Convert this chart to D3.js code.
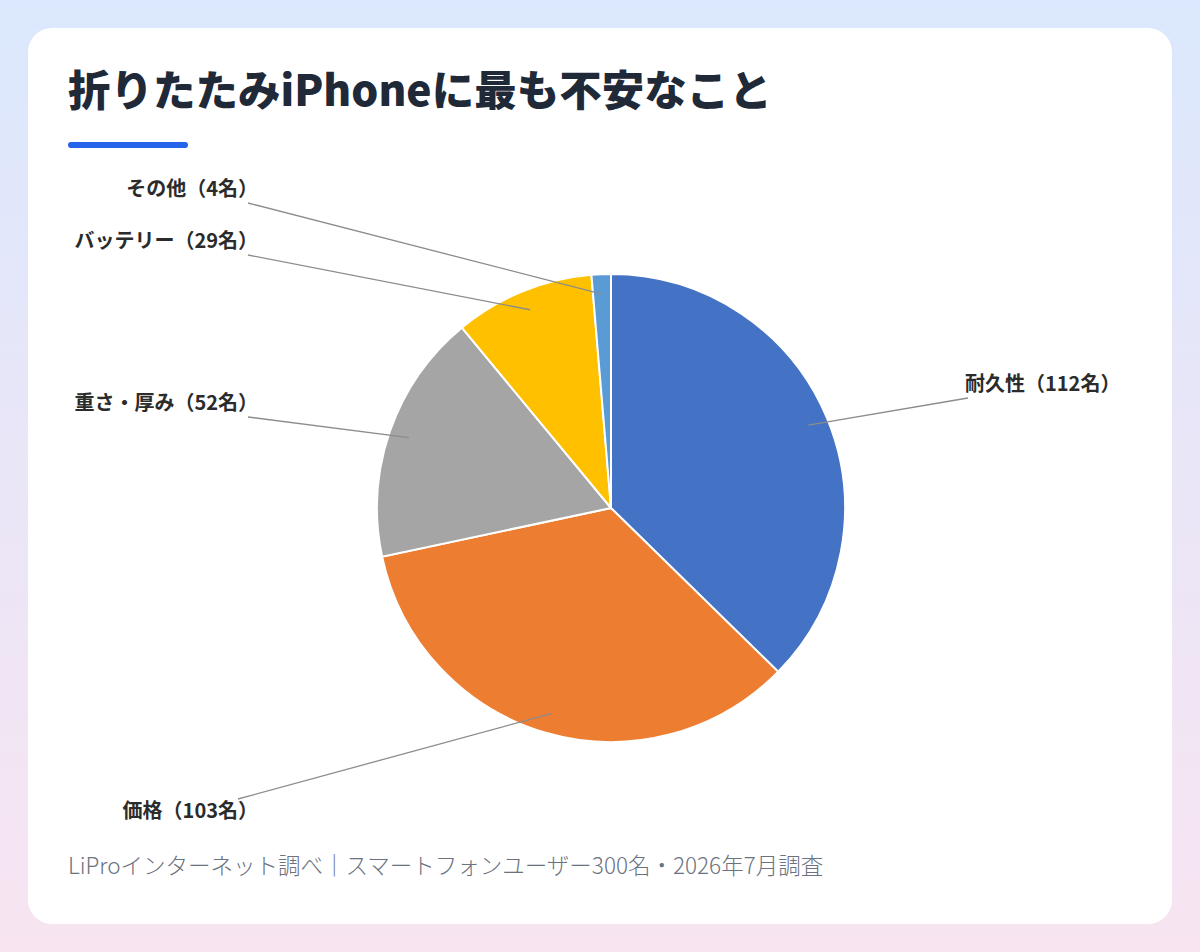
<!DOCTYPE html>
<html lang="ja">
<head>
<meta charset="utf-8">
<script src="https://cdn.jsdelivr.net/npm/d3@7"></script>
<style>
  html, body { margin: 0; padding: 0; }
  body {
    width: 1200px; height: 952px; overflow: hidden;
    background: linear-gradient(180deg, #dbe8fd 0%, #f8e4f1 100%);
    font-family: "Noto Sans CJK JP", "Noto Sans", sans-serif;
  }
</style>
</head>
<body>
<div id="chart"></div>
<script>
// data
var categories = ["耐久性", "価格", "重さ・厚み", "バッテリー", "その他"];
var counts = [112, 103, 52, 29, 4];
var colors = ["#4472C4", "#ED7D31", "#A5A5A5", "#FFC000", "#5B9BD5"];
var titleText = "折りたたみiPhoneに最も不安なこと";
var sourceText = "LiProインターネット調べ｜スマートフォンユーザー300名・2026年7月調査";

// label layout (vertical centre of each label)
var labelY = [384, 811, 403, 241, 189];

function init() {
    var w = 1200;
    var h = 952;
    var cx = 611, cy = 508, radius = 234;

    var svg = d3.select("#chart")
        .append("svg")
        .attr("width", w)
        .attr("height", h);

    // white card
    svg.append("rect")
        .attr("x", 28).attr("y", 28)
        .attr("width", 1144).attr("height", 896)
        .attr("rx", 24)
        .attr("fill", "#ffffff");

    svg.append("text")
        .attr("x", 68).attr("y", 106)
        .attr("font-size", "42.5px")
        .attr("font-weight", 900)
        .attr("fill", "#1f2937")
        .text(titleText);

    svg.append("rect")
        .attr("x", 68).attr("y", 142)
        .attr("width", 120).attr("height", 6)
        .attr("rx", 3)
        .attr("fill", "#2563eb");

    var dataset = categories.map((c, i) => ({name: c, value: counts[i], color: colors[i], ly: labelY[i]}));

    var pie = d3.pie().sort(null).value(d => d.value);
    var arc = d3.arc().innerRadius(0).outerRadius(radius);
    var arcs = pie(dataset);

    var g = svg.append("g").attr("transform", "translate(" + cx + "," + cy + ")");

    g.selectAll("path")
        .data(arcs)
        .enter()
        .append("path")
        .attr("d", arc)
        .attr("fill", d => d.data.color)
        .attr("stroke", "#ffffff")
        .attr("stroke-width", 2);

    // leader lines + labels
    var innerR = radius * 0.915;
    var rightX = 965, leftX = 258;

    arcs.forEach(function(d) {
        var mid = (d.startAngle + d.endAngle) / 2;
        var px = cx + innerR * Math.sin(mid);
        var py = cy - innerR * Math.cos(mid);
        var right = Math.sin(mid) > 0;
        var tx = right ? rightX : leftX;
        var ty = d.data.ly;
        var below = ty > py;
        var ex = right ? tx + 3 : (below ? 238 : 248);
        var ey = below ? ty - 12 : ty + 14;

        svg.append("line")
            .attr("x1", px).attr("y1", py)
            .attr("x2", ex).attr("y2", ey)
            .attr("stroke", "#8c8c8c")
            .attr("stroke-width", 1.3);

        svg.append("text")
            .attr("x", tx).attr("y", ty)
            .attr("dy", "0.35em")
            .attr("text-anchor", right ? "start" : "end")
            .attr("font-size", "20px")
            .attr("font-weight", 700)
            .attr("fill", "#2b2b2b")
            .text(d.data.name + "（" + d.data.value + "名）");
    });

    svg.append("text")
        .attr("x", 68).attr("y", 874)
        .attr("font-size", "22.5px")
        .attr("font-weight", 300)
        .attr("fill", "#6b7280")
        .text(sourceText);
}

window.onload = init;
</script>
</body>
</html>
